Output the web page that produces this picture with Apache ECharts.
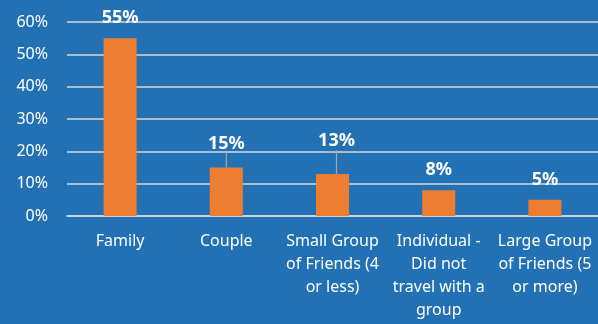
<!DOCTYPE html>
<html>
<head>
<meta charset="utf-8">
<script src="https://cdn.jsdelivr.net/npm/echarts@6/dist/echarts.min.js"></script>
<style>
  html, body { margin: 0; padding: 0; background: #2371B5; }
  #chart { width: 598px; height: 324px; }
</style>
</head>
<body>
<div id="chart"></div>
<script>
// Travel party composition (share of respondents, %)
const categories = [
  'Family',
  'Couple',
  'Small Group\nof Friends (4\nor less)',
  'Individual -\nDid not\ntravel with a\ngroup',
  'Large Group\nof Friends (5\nor more)'
];
const shares = [55, 15, 13, 8, 5];
const yTicks = { min: 0, max: 60, step: 10 };

// Labels nudged away from their bars, drawn with a leader line
const labelNudges = { 1: { dx: 0, dy: -4 }, 2: { dx: 4, dy: -13 } };

const FONT = 'Noto Sans';
const chart = echarts.init(document.getElementById('chart'), null, { renderer: 'canvas' });

const barData = shares.map(function (v, i) {
  return {
    value: v,
    labelLine: {
      show: !!labelNudges[i],
      lineStyle: { color: '#A6A6A6', width: 1.2 }
    }
  };
});

chart.setOption({
  backgroundColor: '#2371B5',
  animation: false,
  grid: { left: 67, right: -4, top: 22, bottom: 108, containLabel: false },
  xAxis: {
    type: 'category',
    data: categories,
    axisLine: { show: true, lineStyle: { color: '#D9D9D9', width: 1.5 } },
    axisTick: { show: false },
    axisLabel: {
      color: '#FFFFFF',
      fontFamily: FONT,
      fontSize: 16,
      lineHeight: 23,
      margin: 14,
      interval: 0
    }
  },
  yAxis: {
    type: 'value',
    min: yTicks.min,
    max: yTicks.max,
    interval: yTicks.step,
    axisLine: { show: false },
    axisTick: { show: false },
    splitLine: { lineStyle: { color: '#D9D9D9', width: 1.5 } },
    axisLabel: {
      color: '#FFFFFF',
      fontFamily: FONT,
      fontSize: 16,
      margin: 19,
      formatter: '{value}%'
    }
  },
  series: [{
    type: 'bar',
    data: barData,
    barWidth: 33,
    itemStyle: { color: '#ED7D31' },
    label: {
      show: true,
      position: 'top',
      distance: 11,
      formatter: '{c}%',
      color: '#FFFFFF',
      fontFamily: FONT,
      fontSize: 18,
      fontWeight: 'bold'
    },
    labelLayout: function (p) {
      const n = labelNudges[p.dataIndex];
      return n ? { dx: n.dx, dy: n.dy } : {};
    }
  }]
});
</script>
</body>
</html>
